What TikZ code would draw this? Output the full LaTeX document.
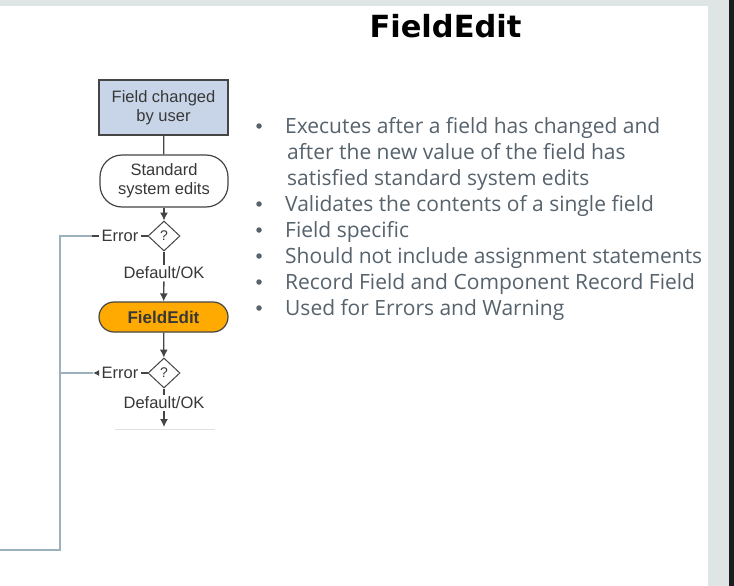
\documentclass[tikz,border=0pt]{standalone}
\usepackage{fontspec}
\setmainfont{Open Sans}
\newfontfamily\titlefont{DejaVu Sans}
\newfontfamily\chartfont{Liberation Sans}
\usetikzlibrary{shapes.geometric,arrows.meta}

\definecolor{slidegray}{HTML}{DFE4E4}
\definecolor{edgeblack}{HTML}{1A1D1C}
\definecolor{boxblue}{HTML}{C8D5E8}
\definecolor{editorange}{HTML}{FFAA00}
\definecolor{chartline}{HTML}{454545}
\definecolor{railblue}{HTML}{9CB0BE}
\definecolor{bulletgray}{HTML}{56626C}

\tikzset{
  flowtext/.style={font=\chartfont\fontsize{16.5}{19}\selectfont, text=black!78, align=center},
  userbox/.style={flowtext, draw=chartline, line width=1.2pt, fill=boxblue, minimum width=129pt, minimum height=55pt, inner sep=0pt},
  pillbox/.style={flowtext, draw=chartline, line width=1.2pt, fill=white, rounded corners=22pt, minimum width=128pt, minimum height=52pt, inner sep=0pt},
  editbox/.style={flowtext, draw=chartline, line width=1.2pt, fill=editorange, rounded corners=15pt, minimum width=129pt, minimum height=30pt, inner sep=0pt, font=\chartfont\bfseries\fontsize{17}{19}\selectfont},
  decision/.style={flowtext, diamond, draw=chartline, line width=1pt, fill=white, aspect=1, minimum width=32pt, minimum height=30pt, inner sep=0pt, font=\chartfont\fontsize{14}{16}\selectfont},
  flowlabel/.style={flowtext, inner sep=2pt},
  flowarrow/.style={draw=chartline, line width=1.3pt, -{Latex[length=8pt,width=8pt]}},
  flowline/.style={draw=chartline, line width=1.3pt},
  rail/.style={draw=railblue, line width=2.5pt},
  bullettext/.style={anchor=base west, inner sep=0pt, text=bulletgray, font=\fontsize{21}{26}\selectfont},
  bulletdot/.style={circle, fill=bulletgray, inner sep=0pt, minimum size=5.5pt}
}

\begin{document}
\begin{tikzpicture}[x=1pt, y=-1pt]

        % slide background
        \fill[slidegray] (0,0) rectangle (734,586);
        \fill[white] (0,6) rectangle (708,586);
        \fill[edgeblack] (729,0) rectangle (734,586);
        \useasboundingbox (0,0) rectangle (734,586);

        % title
        \node[anchor=base, inner sep=0pt, font=\titlefont\bfseries\fontsize{30.5}{34}\selectfont] (title) at (445.5,38) {FieldEdit};

        % flow chart nodes
        \node[userbox] (changed) at (163.5,107.5) {Field changed\\by user};
        \node[pillbox] (standard) at (164,181) {Standard\\system edits};
        \node[decision] (check1) at (164,236) {?};
        \node[flowlabel] (ok1) at (164,273) {Default/OK};
        \node[editbox] (fieldedit) at (163.5,317) {FieldEdit};
        \node[decision] (check2) at (164,373) {?};
        \node[flowlabel] (ok2) at (164,403) {Default/OK};
        \node[flowlabel] (error1) at (120,236) {Error};
        \node[flowlabel] (error2) at (120,373) {Error};

        \coordinate (out1) at (92,236);
        \coordinate (out2) at (93,373);
        \coordinate (next) at (164,427);
        \coordinate (cutleft) at (115,429);
        \coordinate (cutright) at (215,429);

        % blue rail back to the start
        \coordinate (railtop) at (60,236);
        \coordinate (railmid) at (60,373);
        \coordinate (railbottom) at (60,550);
        \coordinate (railend) at (0,550);
        \draw[rail] (out1) -- (railtop) -- (railbottom) -- (railend);
        \draw[rail] (railmid) -- (out2);

        % connectors
        \draw[flowline] (changed) -- (standard);
        \draw[flowarrow] (standard) -- (check1);
        \draw[flowline] (check1) -- (ok1);
        \draw[flowarrow] (ok1) -- (fieldedit);
        \draw[flowline] (check1) -- (error1);
        \draw[flowline] (error1) -- (out1);
        \draw[flowarrow] (fieldedit) -- (check2);
        \draw[flowline] (check2) -- (ok2);
        \draw[flowarrow] (ok2) -- (next);
        \draw[flowline] (check2) -- (error2);
        \draw[draw=chartline, line width=1.3pt, -{Latex[length=6pt,width=6pt]}] (error2) -- (out2);
        \draw[black!12, line width=1pt] (cutleft) -- (cutright);

        % bullet points
        \node[bulletdot] (dot1) at (259,126) {};
        \node[bullettext] (line1) at (285,133) {Executes after a field has changed and};
        \node[bullettext] (line1b) at (287,159) {after the new value of the field has};
        \node[bullettext] (line1c) at (287,185) {satisfied standard system edits};
        \node[bulletdot] (dot2) at (259,204) {};
        \node[bullettext] (line2) at (285,211) {Validates the contents of a single field};
        \node[bulletdot] (dot3) at (259,230) {};
        \node[bullettext] (line3) at (285,237) {Field specific};
        \node[bulletdot] (dot4) at (259,256) {};
        \node[bullettext] (line4) at (285,263) {Should not include assignment statements};
        \node[bulletdot] (dot5) at (259,282) {};
        \node[bullettext] (line5) at (285,289) {Record Field and Component Record Field};
        \node[bulletdot] (dot6) at (259,308) {};
        \node[bullettext] (line6) at (285,315) {Used for Errors and Warning};

\end{tikzpicture}
\end{document}
